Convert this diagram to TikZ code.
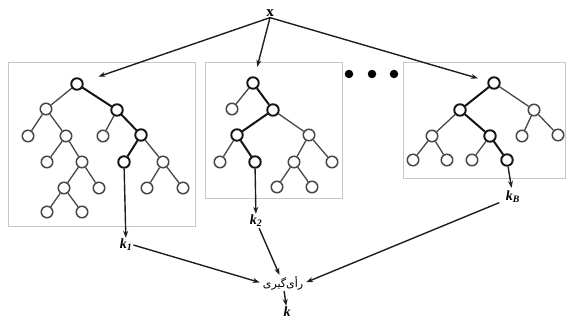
\documentclass[tikz,border=0pt]{standalone}
\usepackage{fontspec}
\usetikzlibrary{arrows.meta}
\setmainfont{Liberation Serif}
\newfontfamily\farsifont[Script=Arabic]{DejaVu Sans}
\TeXXeTstate=1

\newcommand{\kvar}[1]{\textbf{\textit{k}}\textsubscript{\textbf{\textit{#1}}}}

\tikzset{
  tnode/.style={circle, draw=black!72, line width=1.5pt, fill=white, minimum size=11.5pt, inner sep=0pt},
  hnode/.style={tnode, draw=black!92, line width=1.9pt},
  tedge/.style={draw=black!72, line width=1.3pt},
  hedge/.style={draw=black!92, line width=2pt},
  frame/.style={draw=black!22, line width=1pt},
  conn/.style={draw=black!88, line width=1.4pt, -{Stealth[length=7pt,width=5pt]}},
  lab/.style={inner sep=1pt, font=\fontsize{14}{14}\selectfont},
  dot/.style={circle, fill=black, minimum size=8.5pt, inner sep=0pt}
}

\begin{document}
\begin{tikzpicture}[x=1pt,y=-1pt]
\useasboundingbox (0,0) rectangle (568,321);
\fill[white] (0,0) rectangle (568,321);

% frames round the three trees
\draw[frame] (8,63) rectangle (195,226);
\draw[frame] (205,63) rectangle (342,198);
\draw[frame] (403,63) rectangle (565,178);

% ellipsis between the second and last tree
\node[dot] (d1) at (349,74) {};
\node[dot] (d2) at (372,74) {};
\node[dot] (d3) at (394,74) {};

% tree 1
\node[hnode] (a0) at (77,84) {};
\node[tnode] (a1) at (46,109) {};
\node[hnode] (a2) at (117,110) {};
\node[tnode] (a3) at (28,136) {};
\node[tnode] (a4) at (66,136) {};
\node[tnode] (a5) at (103,136) {};
\node[hnode] (a6) at (141,135) {};
\node[tnode] (a7) at (47,162) {};
\node[tnode] (a8) at (82,162) {};
\node[hnode] (a9) at (124,162) {};
\node[tnode] (a10) at (163,162) {};
\node[tnode] (a11) at (64,188) {};
\node[tnode] (a12) at (99,188) {};
\node[tnode] (a13) at (147,188) {};
\node[tnode] (a14) at (183,188) {};
\node[tnode] (a15) at (47,212) {};
\node[tnode] (a16) at (82,212) {};
\draw[tedge] (a0)--(a1) (a1)--(a3) (a1)--(a4) (a2)--(a5) (a4)--(a7) (a4)--(a8)
  (a6)--(a10) (a8)--(a11) (a8)--(a12) (a10)--(a13) (a10)--(a14) (a11)--(a15) (a11)--(a16);
\draw[hedge] (a0)--(a2) (a2)--(a6) (a6)--(a9);

% tree 2
\node[hnode] (b0) at (253,83) {};
\node[tnode] (b1) at (232,109) {};
\node[hnode] (b2) at (273,110) {};
\node[hnode] (b3) at (237,135) {};
\node[tnode] (b4) at (309,135) {};
\node[tnode] (b5) at (220,162) {};
\node[hnode] (b6) at (255,162) {};
\node[tnode] (b7) at (294,162) {};
\node[tnode] (b8) at (332,162) {};
\node[tnode] (b9) at (277,187) {};
\node[tnode] (b10) at (312,187) {};
\draw[tedge] (b0)--(b1) (b2)--(b4) (b3)--(b5) (b4)--(b7) (b4)--(b8) (b7)--(b9) (b7)--(b10);
\draw[hedge] (b0)--(b2) (b2)--(b3) (b3)--(b6);

% tree B
\node[hnode] (c0) at (494,83) {};
\node[hnode] (c1) at (460,110) {};
\node[tnode] (c2) at (534,110) {};
\node[tnode] (c3) at (432,136) {};
\node[hnode] (c4) at (490,136) {};
\node[tnode] (c5) at (522,136) {};
\node[tnode] (c6) at (558,135) {};
\node[tnode] (c7) at (413,160) {};
\node[tnode] (c8) at (447,160) {};
\node[tnode] (c9) at (472,160) {};
\node[hnode] (c10) at (507,160) {};
\draw[tedge] (c0)--(c2) (c1)--(c3) (c2)--(c5) (c2)--(c6) (c3)--(c7) (c3)--(c8) (c4)--(c9);
\draw[hedge] (c0)--(c1) (c1)--(c4) (c4)--(c10);

% input and outputs
\node[lab, font=\fontsize{15}{15}\selectfont\bfseries] (x) at (270,13) {x};
\node[lab] (k1) at (126,245) {\kvar{1}};
\node[lab] (k2) at (256,221) {\kvar{2}};
\node[lab] (kB) at (513,197) {\kvar{B}};
\node[lab, font=\farsifont\fontsize{11}{11}\selectfont] (vote) at (283,283) {\beginR رأی‌گیری\endR};
\node[lab] (k) at (287,312) {\textbf{\textit{k}}};

% input sent to every tree
\draw[conn, shorten >=16pt] (x.south) -- (a0);
\draw[conn, shorten >=10pt] (x.south) -- (b0);
\draw[conn, shorten >=10pt] (x.south) -- (c0);

% leaf reached in each tree
\draw[conn] (a9) -- (k1);
\draw[conn] (b6) -- (k2);
\draw[conn, shorten >=2pt] (c10) -- (kB);

% votes combined
\draw[conn, shorten >=2pt] (k1.east) -- (vote.west);
\draw[conn] (k2) -- (vote);
\draw[conn, shorten <=6pt, shorten >=2pt] (kB) -- (vote.east);
\draw[conn] (vote) -- (k);
\end{tikzpicture}
\end{document}
